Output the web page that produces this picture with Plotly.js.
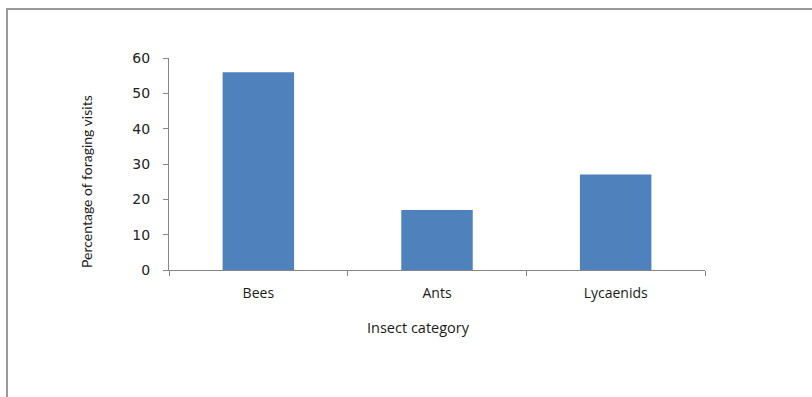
<!DOCTYPE html>
<html><head><meta charset="utf-8">
<script src="https://cdn.plot.ly/plotly-3.0.1.min.js"></script>
<style>
html,body{margin:0;padding:0;background:#fff;}
#frame{position:absolute;left:6px;top:8px;width:820px;height:400px;border-left:2px solid #9a9a9a;border-top:2px solid #9a9a9a;}
#chart{position:absolute;left:0;top:0;width:812px;height:397px;}
</style></head>
<body>
<div id="frame"></div>
<div id="chart"></div>
<script>
const categories = ["Bees", "Ants", "Lycaenids"];
const visits = [56, 17, 27];
const yTicks = [0, 10, 20, 30, 40, 50, 60];
const xTitle = "Insect category";
const yTitle = "Percentage of foraging visits";

const labFont = "'Open Sans', sans-serif";
Plotly.newPlot("chart", [{
  type: "bar",
  x: categories,
  y: visits,
  marker: {color: "#4f81bd", line: {width: 0}},
  hoverinfo: "x+y"
}], {
  width: 812, height: 397,
  paper_bgcolor: "rgba(0,0,0,0)",
  plot_bgcolor: "rgba(0,0,0,0)",
  margin: {l: 169, r: 107, t: 58, b: 127},
  bargap: 0.6,
  showlegend: false,
  xaxis: {
    showline: true, linecolor: "#868686", linewidth: 1,
    ticks: "outside", ticklen: 5, tickcolor: "#868686", tickson: "boundaries",
    tickfont: {family: labFont, size: 14, color: "#1a1a1a"},
    ticklabelstandoff: 10,
    showgrid: false, zeroline: false
  },
  yaxis: {
    range: [0, 60], tickvals: yTicks,
    showline: true, linecolor: "#868686", linewidth: 1,
    ticks: "outside", ticklen: 5, tickcolor: "#868686",
    tickfont: {family: "'DejaVu Sans', sans-serif", size: 14, color: "#222"},
    ticklabelstandoff: 10,
    showgrid: false, zeroline: false
  },
  annotations: [
    {text: xTitle, xref: "paper", yref: "paper", x: 0.4646, y: -0.269,
     xanchor: "center", yanchor: "middle", showarrow: false,
     font: {family: labFont, size: 14.5, color: "#1a1a1a"}},
    {text: yTitle, xref: "paper", yref: "paper", x: -0.153, y: 0.42,
     xanchor: "center", yanchor: "middle", showarrow: false, textangle: -90,
     font: {family: "Lato, sans-serif", size: 14, color: "#1a1a1a"}}
  ]
}, {displayModeBar: false, staticPlot: true});
</script>
</body></html>
